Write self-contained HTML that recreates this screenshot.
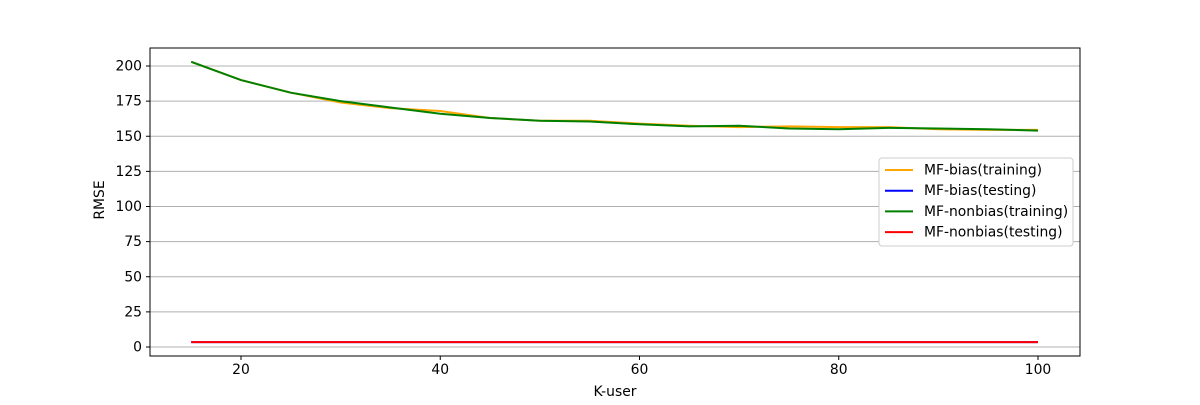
<!DOCTYPE html>
<html><head><meta charset="utf-8"><style>
body{margin:0;background:#fff;width:1200px;height:400px;overflow:hidden}
svg text{font-family:"DejaVu Sans","Liberation Sans",sans-serif;font-size:13.9px;fill:#000}
</style></head><body>
<svg id="chart" width="1200" height="400"></svg>
<script>
const kValues=[15,20,25,30,35,40,45,50,55,60,65,70,75,80,85,90,95,100];
const biasTrain=[203,190,181,174,170,168,163,161,161,159,157.5,156.5,157,156.5,156.5,155,154.5,154.5];
const biasTest=[3.5,3.5,3.5,3.5,3.5,3.5,3.5,3.5,3.5,3.5,3.5,3.5,3.5,3.5,3.5,3.5,3.5,3.5];
const nonbiasTrain=[203,190,181,175,170.5,166,163,161,160.5,158.5,157,157.5,155.5,155,156,155.5,155,154];
const nonbiasTest=[3.5,3.5,3.5,3.5,3.5,3.5,3.5,3.5,3.5,3.5,3.5,3.5,3.5,3.5,3.5,3.5,3.5,3.5];
const xTicks=[20,40,60,80,100];
const yTicks=[0,25,50,75,100,125,150,175,200];
const seriesNames=["MF-bias(training)","MF-bias(testing)","MF-nonbias(training)","MF-nonbias(testing)"];
const seriesColors=["orange","blue","green","red"];

const NS="http://www.w3.org/2000/svg";
const svg=document.getElementById('chart');
const L=150,R=1080,T=48,B=356;
const xs=v=>241+(v-20)*(1038-241)/80;
const ys=v=>347-v*(347-66)/200;
function mk(tag,attrs,parent){const e=document.createElementNS(NS,tag);for(const k in attrs)e.setAttribute(k,attrs[k]);(parent||svg).appendChild(e);return e;}
yTicks.forEach(t=>{
  const g=mk('line',{x1:L,x2:R,y1:ys(t),y2:ys(t),stroke:'#b0b0b0','stroke-width':1});
  
  
  mk('line',{x1:L-4,x2:L,y1:ys(t),y2:ys(t),stroke:'#000'});
  const tx=mk('text',{x:L-8,y:ys(t)+4.5,'text-anchor':'end'});tx.textContent=t;
  
  
});
xTicks.forEach(t=>{
  mk('line',{x1:xs(t),x2:xs(t),y1:B,y2:B+4,stroke:'#000'});
  const tx=mk('text',{x:xs(t),y:B+18,'text-anchor':'middle'});tx.textContent=t;
  
  
});
const data=[biasTrain,biasTest,nonbiasTrain,nonbiasTest];
data.forEach((d,i)=>{
  const p=mk('polyline',{points:d.map((v,j)=>xs(kValues[j])+','+ys(v)).join(' '),fill:'none',stroke:seriesColors[i],'stroke-width':2});
  
  
});
const frame=mk('rect',{x:L,y:T,width:R-L,height:B-T,fill:'none',stroke:'#000','stroke-width':1});


const xl=mk('text',{x:615,y:396,'text-anchor':'middle'});xl.textContent='K-user';


const yl=mk('text',{x:104,y:200,'text-anchor':'middle',transform:'rotate(-90 104 200)'});yl.textContent='RMSE';


const lg=mk('rect',{x:879,y:158,width:194,height:88,fill:'#fff',stroke:'#ccc',rx:3});


seriesNames.forEach((n,i)=>{
  const y=170+i*20.7;
  mk('line',{x1:885,x2:913,y1:y,y2:y,stroke:seriesColors[i],'stroke-width':2});
  const t=mk('text',{x:924,y:y+4.5});t.textContent=n;
  
  
});
</script>
</body></html>
